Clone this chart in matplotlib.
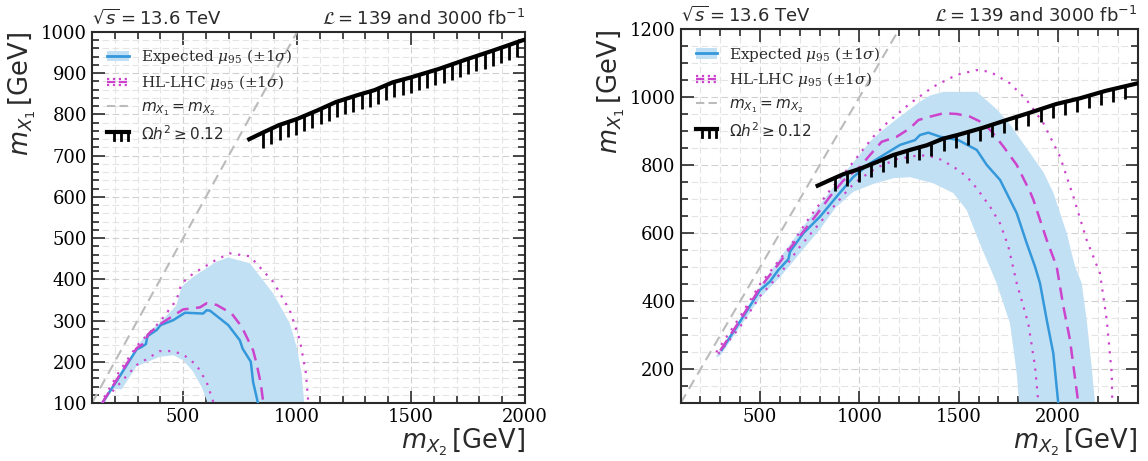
import numpy as np
import matplotlib.pyplot as plt
from matplotlib.lines import Line2D
from matplotlib.patches import Patch
from matplotlib.legend_handler import HandlerBase
from matplotlib.ticker import MultipleLocator

BLUE = '#3498db'
BAND = '#c2e0f4'
MAGENTA = '#cc44cc'
GRAY = '#bbbbbb'
INK = '#2a2a2a'

# relic density boundary, Omega h^2 = 0.12
relic_mx2 = [790, 850, 920, 1000, 1090, 1170, 1260, 1340, 1420, 1500, 1620, 1740, 1860, 1990, 2110, 2240, 2400]
relic_mx1 = [740, 756, 774, 789, 810, 830, 846, 859, 878, 890, 910, 933, 955, 980, 997, 1019, 1041]

# left panel: expected 139 fb^-1 (median and band), HL-LHC 3000 fb^-1 (median, +-1 sigma)
left_exp_mx2 = [145, 215, 296, 318, 337, 343, 362, 384, 401, 457, 508, 588, 603, 618, 698, 749, 761, 797, 807, 827, 830]
left_exp_mx1 = [100, 159, 230, 236, 243, 262, 269, 277, 289, 301, 319, 317, 325, 324, 289, 252, 232, 200, 151, 103, 95]
left_band_up_mx2 = [140, 150, 215, 296, 347, 398, 471, 493, 544, 647, 698, 793, 895, 968, 998, 1020, 1031, 1034]
left_band_up_mx1 = [95, 105, 166, 236, 272, 295, 337, 382, 406, 443, 453, 439, 366, 293, 236, 172, 103, 95]
left_band_dn_mx2 = [150, 193, 230, 296, 398, 457, 500, 544, 581, 606, 608]
left_band_dn_mx1 = [95, 135, 133, 189, 212, 216, 204, 176, 139, 103, 95]
left_hl_mx2 = [145, 215, 296, 337, 345, 398, 500, 574, 603, 647, 713, 757, 807, 822, 841, 853]
left_hl_mx1 = [100, 162, 233, 248, 266, 291, 327, 332, 342, 338, 317, 285, 228, 196, 147, 95]
left_hl_up_mx2 = [135, 215, 296, 398, 471, 493, 544, 647, 705, 793, 895, 968, 1012, 1039, 1050]
left_hl_up_mx1 = [95, 172, 238, 297, 350, 390, 414, 448, 463, 456, 394, 325, 253, 172, 95]
left_hl_dn_mx2 = [190, 201, 296, 398, 450, 500, 559, 603, 637]
left_hl_dn_mx1 = [128, 135, 192, 226, 226, 218, 192, 151, 95]

# right panel
right_exp_mx2 = [307, 399, 458, 500, 550, 592, 643, 651, 718, 802, 886, 970, 1054, 1121, 1205, 1280, 1305, 1347,
                 1406, 1498, 1591, 1641, 1708, 1792, 1842, 1884, 1909, 1943, 1976, 2001, 2003]
right_exp_mx1 = [257, 340, 394, 433, 458, 492, 524, 546, 600, 649, 708, 766, 806, 830, 860, 874, 889, 896,
                 884, 874, 845, 801, 757, 659, 571, 502, 453, 345, 247, 100, 95]
right_band_up_mx2 = [280, 300, 400, 500, 600, 700, 800, 900, 1000, 1054, 1121, 1204, 1305, 1356, 1423, 1591, 1691,
                     1758, 1842, 1926, 1976, 2044, 2069, 2086, 2119, 2144, 2169, 2186, 2187]
right_band_up_mx1 = [240, 258, 350, 442, 527, 607, 682, 760, 830, 870, 905, 943, 987, 1005, 1016, 1016, 965,
                     920, 850, 780, 720, 600, 540, 502, 453, 345, 208, 100, 95]
right_band_dn_mx2 = [280, 300, 400, 500, 600, 650, 720, 800, 880, 970, 1070, 1171, 1255, 1372, 1473, 1540, 1599,
                     1691, 1758, 1792, 1804, 1805]
right_band_dn_mx1 = [235, 240, 325, 410, 470, 505, 555, 610, 675, 722, 745, 762, 765, 747, 718, 668, 580,
                     453, 335, 188, 100, 95]
right_hl_mx2 = [300, 400, 500, 600, 650, 718, 785, 852, 919, 1003, 1053, 1112, 1188, 1255, 1297, 1356, 1423, 1490,
                1557, 1624, 1666, 1725, 1792, 1859, 1876, 1943, 1993, 2027, 2060, 2102, 2104]
right_hl_mx1 = [255, 345, 440, 515, 555, 605, 655, 708, 755, 796, 830, 869, 884, 909, 933, 943, 953, 951,
                943, 924, 899, 855, 801, 722, 698, 580, 502, 384, 286, 100, 95]
right_hl_up_mx2 = [280, 400, 500, 651, 752, 850, 937, 1070, 1138, 1255, 1372, 1490, 1591, 1658, 1758, 1842, 1926,
                   2010, 2077, 2144, 2211, 2245, 2270, 2273, 2274]
right_hl_up_mx1 = [250, 355, 450, 561, 649, 725, 786, 884, 924, 982, 1031, 1066, 1080, 1075, 1041, 992, 924,
                   825, 708, 580, 482, 345, 188, 100, 95]
right_hl_dn_mx2 = [290, 400, 500, 600, 700, 800, 953, 1003, 1087, 1188, 1305, 1389, 1473, 1540, 1591, 1658, 1708,
                   1750, 1792, 1850, 1884, 1901, 1902]
right_hl_dn_mx1 = [245, 325, 415, 480, 560, 630, 735, 760, 793, 818, 830, 823, 796, 767, 732, 678, 629,
                   561, 453, 335, 208, 100, 95]


class HandlerHL(HandlerBase):
    # dashed median with dotted +-1 sigma lines
    def create_artists(self, legend, orig_handle, xdescent, ydescent, width, height, fontsize, trans):
        xs = [-xdescent, width - xdescent]
        yc = height / 2 - ydescent
        out = []
        for off, ls in ((0.3, ':'), (0.0, '--'), (-0.3, ':')):
            ln = Line2D(xs, [yc + off * height] * 2, color=MAGENTA, ls=ls, lw=1.6)
            ln.set_transform(trans)
            out.append(ln)
        return out


class HandlerRelic(HandlerBase):
    # thick line with hatch ticks hanging below
    def create_artists(self, legend, orig_handle, xdescent, ydescent, width, height, fontsize, trans):
        x0, x1 = -xdescent, width - xdescent
        ytop = 0.8 * height - ydescent
        out = [Line2D([x0, x1], [ytop, ytop], color='k', lw=3)]
        for x in np.linspace(x0 + 0.3 * width, x1 - 0.05 * width, 3):
            out.append(Line2D([x, x], [ytop, 0.05 * height - ydescent], color='k', lw=2))
        for a in out:
            a.set_transform(trans)
        return out


def draw_relic(ax, start, step):
    ax.plot(relic_mx2, relic_mx1, color='k', lw=3, zorder=5)
    xt = np.arange(start, relic_mx2[-1] - 60, step)
    yt = np.interp(xt, relic_mx2, relic_mx1)
    ax.vlines(xt, yt - 37, yt, color='k', lw=2, zorder=5)


def draw_panel(ax, exp, band_up, band_dn, hl, hl_up, hl_dn, xmax, ymax, ymaj, ymin, relic_step):
    ax.fill(list(band_up[0]) + list(band_dn[0])[::-1], list(band_up[1]) + list(band_dn[1])[::-1],
            color=BAND, lw=0, zorder=1)
    ax.plot(exp[0], exp[1], color=BLUE, lw=1.8, zorder=3)
    ax.plot(hl[0], hl[1], color=MAGENTA, lw=1.8, ls=(0, (5, 3)), zorder=3)
    ax.plot(hl_up[0], hl_up[1], color=MAGENTA, lw=1.6, ls=(0, (1, 3)), zorder=3)
    ax.plot(hl_dn[0], hl_dn[1], color=MAGENTA, lw=1.6, ls=(0, (1, 3)), zorder=3)
    ax.plot([100, 2400], [100, 2400], color=GRAY, lw=1.5, ls=(0, (5, 3)), zorder=2)
    draw_relic(ax, relic_step[0], relic_step[1])

    ax.set_xlim(100, xmax)
    ax.set_ylim(100, ymax)
    ax.xaxis.set_major_locator(MultipleLocator(500))
    ax.xaxis.set_minor_locator(MultipleLocator(100))
    ax.yaxis.set_major_locator(MultipleLocator(ymaj))
    ax.yaxis.set_minor_locator(MultipleLocator(ymin))
    ax.grid(True, which='major', ls=(0, (6, 3)), color='#d0d0d0', lw=0.8)
    ax.grid(True, which='minor', ls=(0, (6, 3)), color='#e4e4e4', lw=0.8)
    ax.set_axisbelow(True)
    ax.tick_params(which='both', direction='in', top=True, right=True, color=INK, width=1.2,
                   labelsize=13, labelfontfamily='DejaVu Serif', labelcolor='k')
    ax.tick_params(which='major', length=9)
    ax.tick_params(which='minor', length=5)
    for s in ax.spines.values():
        s.set_color(INK)
        s.set_linewidth(1.5)

    ax.set_xlabel(r'$m_{X_2}\,$[GeV]', loc='right', fontsize=18.5, color=INK, labelpad=0)
    ax.set_ylabel(r'$m_{X_1}\,$[GeV]', loc='top', fontsize=18.5, color=INK, labelpad=2)
    ax.set_title(r'$\sqrt{s} = 13.6$ TeV', loc='left', fontsize=13, color=INK, pad=6)
    ax.set_title(r'$\mathcal{L} = 139$ and $3000$ fb$^{-1}$', loc='right', fontsize=13, color=INK, pad=6)

    hl_key = object()
    relic_key = object()
    handles = [(Patch(fc=BAND, ec='none'), Line2D([], [], color=BLUE, lw=2)),
               hl_key,
               Line2D([], [], color=GRAY, lw=1.5, ls=(0, (4, 2))),
               relic_key]
    labels = [r'Expected $\mu_{95}$ $(\pm1\sigma)$', r'HL-LHC $\mu_{95}$ $(\pm1\sigma)$',
              r'$m_{X_1} = m_{X_2}$', r'$\Omega h^2 \geq 0.12$']
    leg = ax.legend(handles, labels, loc='upper left', frameon=False, fontsize=11,
                    handlelength=1.4, labelspacing=0.45, borderaxespad=0.6,
                    handler_map={hl_key: HandlerHL(), relic_key: HandlerRelic()})
    for t in leg.get_texts()[:2]:
        t.set_fontfamily('DejaVu Serif')
        t.set_math_fontfamily('dejavuserif')
    for t in leg.get_texts():
        t.set_color(INK)


fig = plt.figure(figsize=(11.48, 4.61), dpi=100)
ax_l = fig.add_axes([0.0801, 0.1258, 0.3772, 0.8048])
ax_r = fig.add_axes([0.5928, 0.1252, 0.3981, 0.8113])

draw_panel(ax_l, (left_exp_mx2, left_exp_mx1), (left_band_up_mx2, left_band_up_mx1),
           (left_band_dn_mx2, left_band_dn_mx1), (left_hl_mx2, left_hl_mx1),
           (left_hl_up_mx2, left_hl_up_mx1), (left_hl_dn_mx2, left_hl_dn_mx1),
           2000, 1000, 100, 20, (851, 36))
draw_panel(ax_r, (right_exp_mx2, right_exp_mx1), (right_band_up_mx2, right_band_up_mx1),
           (right_band_dn_mx2, right_band_dn_mx1), (right_hl_mx2, right_hl_mx1),
           (right_hl_up_mx2, right_hl_up_mx1), (right_hl_dn_mx2, right_hl_dn_mx1),
           2400, 1200, 200, 50, (875, 61))

fig.savefig('out.png', dpi=100)
